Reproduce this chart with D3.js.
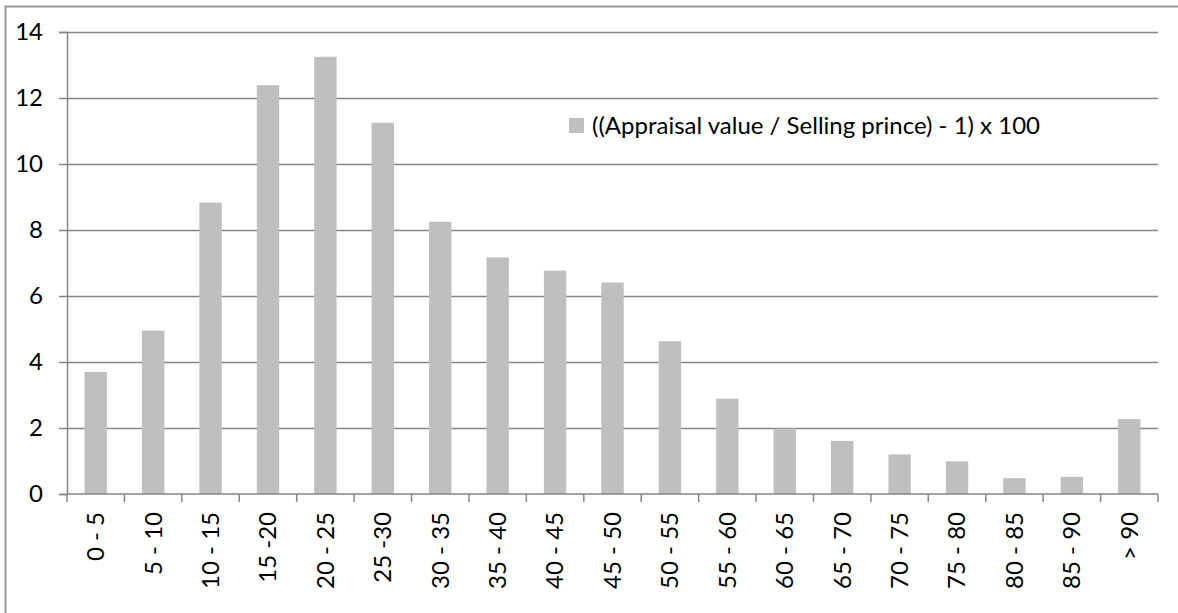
<!DOCTYPE html>
<html>
<head>
<meta charset="utf-8">
<script src="https://cdn.jsdelivr.net/npm/d3@7"></script>
<style>
  body { margin: 0; background: #fff; }
  text { font-family: Lato, "Liberation Sans", sans-serif; fill: #000; }
</style>
</head>
<body>
<div id="graph"></div>
<script>
const categories = ["0 - 5", "5 - 10", "10 - 15", "15 -20", "20 - 25", "25 -30", "30 - 35",
  "35 - 40", "40 - 45", "45 - 50", "50 - 55", "55 - 60", "60 - 65", "65 - 70", "70 - 75",
  "75 - 80", "80 - 85", "85 - 90", "> 90"]
const values = [3.70, 4.95, 8.83, 12.39, 13.25, 11.25, 8.25, 7.17, 6.77, 6.41, 4.63,
  2.89, 1.98, 1.61, 1.20, 0.99, 0.48, 0.52, 2.27]
const yTicks = [0, 2, 4, 6, 8, 10, 12, 14]
const seriesName = "((Appraisal value / Selling prince) - 1) x 100"

const W = 1178, H = 613
const margin = {top: 32, right: 20, bottom: 119, left: 67}
const width = 1158 - margin.left
const height = 494 - margin.top
const grid = '#868686'
const barColor = '#bfbfbf'

const svg = d3.select('#graph').append('svg')
  .attr('width', W)
  .attr('height', H)

// outer frame
svg.append('rect')
  .attr('x', 5.5).attr('y', 6.5)
  .attr('width', W + 20).attr('height', H + 20)
  .attr('fill', 'none')
  .attr('stroke', '#9a9a9a')
  .attr('stroke-width', 2)

const g = svg.append('g')
  .attr('transform', `translate(${margin.left},${margin.top})`)

const x = d3.scaleBand()
  .domain(categories)
  .range([0, width])
  .paddingInner(0.61)
  .paddingOuter(0.305)

const y = d3.scaleLinear()
  .domain([0, 14])
  .range([height, 0])

// gridlines
g.append('g')
  .selectAll('line')
  .data(yTicks.filter(d => d > 0))
  .join('line')
  .attr('x1', 0).attr('x2', width)
  .attr('y1', d => Math.round(y(d)) + 0.5)
  .attr('y2', d => Math.round(y(d)) + 0.5)
  .attr('stroke', grid)
  .attr('stroke-width', 1.5)

// bars
g.append('g')
  .selectAll('rect')
  .data(values)
  .join('rect')
  .attr('x', (d, i) => x(categories[i]))
  .attr('y', d => y(d))
  .attr('width', x.bandwidth())
  .attr('height', d => y(0) - y(d))
  .attr('fill', barColor)

// y axis
const yAxis = g.append('g')
  .call(d3.axisLeft(y).tickValues(yTicks).tickSize(8).tickPadding(16).tickFormat(d3.format('d')))
yAxis.select('.domain').attr('stroke', grid).attr('stroke-width', 1.5)
yAxis.selectAll('.tick line').attr('stroke', grid).attr('stroke-width', 1.5)
yAxis.selectAll('.tick text')
  .style('font-size', '24px')

// x axis, ticks at category boundaries
const step = x.step()
const boundaries = d3.range(categories.length + 1).map(i => i * step)
const xAxis = g.append('g')
  .attr('transform', `translate(0,${height})`)
xAxis.append('line')
  .attr('x1', 0).attr('x2', width)
  .attr('stroke', grid).attr('stroke-width', 1.5)
xAxis.selectAll('.bt')
  .data(boundaries)
  .join('line')
  .attr('class', 'bt')
  .attr('x1', d => d).attr('x2', d => d)
  .attr('y1', 0).attr('y2', 8)
  .attr('stroke', grid).attr('stroke-width', 1.5)

xAxis.selectAll('.cat')
  .data(categories)
  .join('text')
  .attr('class', 'cat')
  .attr('transform', d => `translate(${x(d) + x.bandwidth() / 2},18) rotate(-90)`)
  .attr('dy', '0.35em')
  .attr('text-anchor', 'end')
  .style('font-size', '24px')
  .text(d => d)

// legend
const legend = svg.append('g')
  .attr('transform', 'translate(569,118)')
legend.append('rect')
  .attr('width', 15).attr('height', 15)
  .attr('fill', barColor)
legend.append('text')
  .attr('x', 23).attr('y', 7.5)
  .attr('dy', '0.35em')
  .style('font-size', '24px')
  .text(seriesName)
</script>
</body>
</html>
